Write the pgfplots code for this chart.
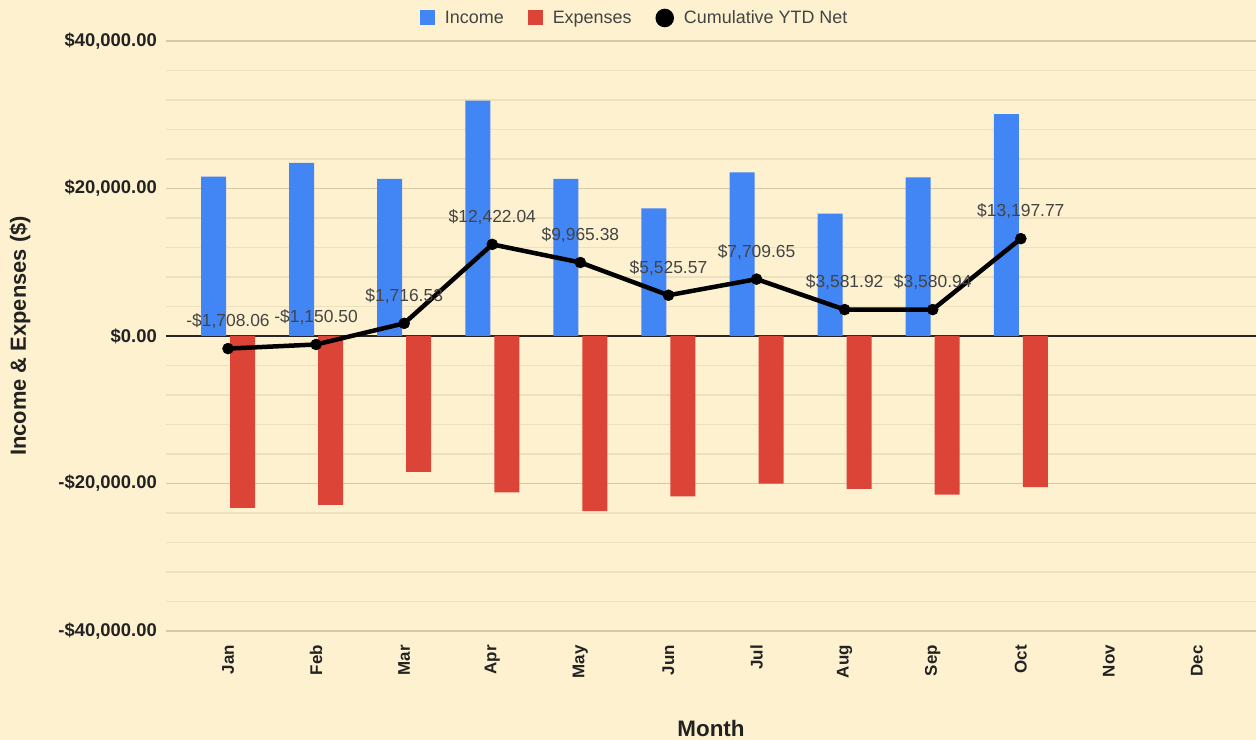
\documentclass[border=0pt]{standalone}
\usepackage{pgfplots}
\usepackage{pgfplotstable}
\pgfplotsset{compat=1.18}
\usepackage{fontspec}
\setmainfont{Liberation Sans}
\definecolor{bg}{HTML}{FEF1D0}
\definecolor{incblue}{HTML}{4285F4}
\definecolor{expred}{HTML}{DB4437}
\definecolor{majgrid}{HTML}{D6C8A2}
\definecolor{mingrid}{HTML}{EDE1BD}
\definecolor{txt}{HTML}{222222}
\definecolor{txtb}{HTML}{444444}

\pgfplotstableread{
x inc
0 21600
1 23460
2 21300
3 31900
4 21300
5 17300
6 22200
7 16600
8 21500
9 30100
}\incdata
\pgfplotstableread{
x exp
0 -23300
1 -22900
2 -18430
3 -21200
4 -23760
5 -21740
6 -20020
7 -20730
8 -21500
9 -20480
}\expdata
\pgfplotstableread{
x net label
0 -1708.06 {-\$1,708.06}
1 -1150.50 {-\$1,150.50}
2 1716.53 {\$1,716.53}
3 12422.04 {\$12,422.04}
4 9965.38 {\$9,965.38}
5 5525.57 {\$5,525.57}
6 7709.65 {\$7,709.65}
7 3581.92 {\$3,581.92}
8 3580.94 {\$3,580.94}
9 13197.77 {\$13,197.77}
}\netdata

\begin{document}
\begin{tikzpicture}
\fill[bg] (0,0) rectangle (1256bp,740bp);
\begin{axis}[
  at={(166bp,109bp)}, anchor=south west,
  scale only axis, width=1090bp, height=590bp,
  xmin=-0.704, xmax=11.67, ymin=-40000, ymax=40000,
  axis line style={draw=none},
  major tick length=0pt, minor tick length=0pt,
  tick style={draw=none},
  scaled ticks=false,
  xtick={0,...,11},
  xticklabels={Jan,Feb,Mar,Apr,May,Jun,Jul,Aug,Sep,Oct,Nov,Dec},
  x tick label style={rotate=90, anchor=east, inner sep=0pt, xshift=-14bp,
    font=\fontsize{17}{20}\selectfont\bfseries, text=txt},
  ytick={-40000,-20000,0,20000,40000},
  yticklabels={{-\$40,000.00},{-\$20,000.00},{\$0.00},{\$20,000.00},{\$40,000.00}},
  minor y tick num=4,
  y tick label style={anchor=east, inner sep=0pt, xshift=-9bp,
    font=\fontsize{18.5}{21}\selectfont\bfseries, text=txt},
  ymajorgrids, yminorgrids,
  major grid style={majgrid, line width=1.1bp},
  minor grid style={mingrid, line width=1.1bp},
  extra y ticks={0}, extra y tick labels={},
  extra y tick style={grid=major, major grid style={black!85, line width=1.3bp}},
  xlabel={Month}, ylabel={Income \& Expenses (\$)},
  every axis x label/.style={at={(axis description cs:0.5,-0.1644)}, anchor=center,
    font=\fontsize{22.5}{25}\selectfont\bfseries, text=txt},
  every axis y label/.style={at={(axis description cs:-0.1339,0.5)}, rotate=90, anchor=center,
    font=\fontsize{22}{25}\selectfont\bfseries, text=txt},
  legend style={at={(axis description cs:0.430,1.039)}, anchor=center, draw=none, fill=none,
    legend columns=-1, font=\fontsize{18}{21}\selectfont, text=txtb,
    /tikz/every even column/.append style={column sep=22bp},
    /tikz/every odd column/.append style={column sep=8bp}},
]
\addplot[ybar, bar width=25bp, bar shift=-14.5bp, fill=incblue, draw=none,
  legend image code/.code={\fill[incblue] (0bp,-7.5bp) rectangle (15bp,7.5bp);}]
  table[x=x,y=inc]{\incdata};
\addlegendentry{Income}
\addplot[ybar, bar width=25bp, bar shift=14.5bp, fill=expred, draw=none,
  legend image code/.code={\fill[expred] (0bp,-7.5bp) rectangle (15bp,7.5bp);}]
  table[x=x,y=exp]{\expdata};
\addlegendentry{Expenses}
\addplot[black, line width=4.5bp, mark=*, mark size=5.5bp,
  mark options={solid, fill=black, draw=black, line width=0.5bp},
  point meta=explicit symbolic, nodes near coords,
  every node near coord/.style={anchor=base, yshift=22bp, inner sep=0pt,
    font=\fontsize{17.5}{20}\selectfont, text=txtb},
  legend image code/.code={\fill[black] (7.5bp,0bp) circle (7bp);}]
  table[x=x,y=net,meta=label]{\netdata};
\addlegendentry{Cumulative YTD Net}
\end{axis}
\pgfresetboundingbox
\path[use as bounding box] (0,0) rectangle (1256bp,740bp);
\end{tikzpicture}
\end{document}
